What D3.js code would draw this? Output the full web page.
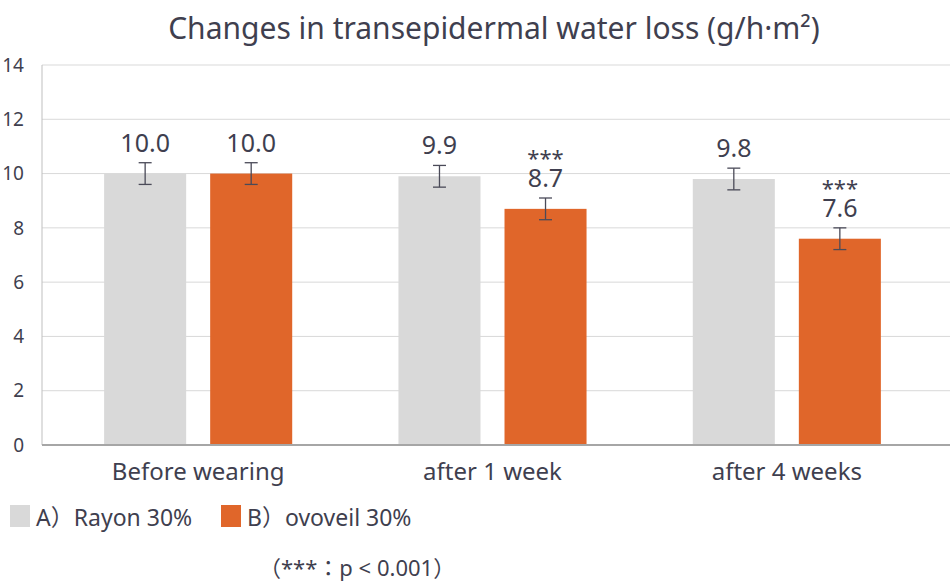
<!DOCTYPE html>
<html>
<head>
  <script src="https://d3js.org/d3.v7.min.js"></script>
  <style>
    body { margin: 0; background: #fff; }
    text { font-family: "Noto Sans", "Noto Sans CJK JP", sans-serif; fill: #3f3f4f; }
  </style>
</head>
<body>
  <div id="chart"></div>
  <script>
    // data
    var categories = ["Before wearing", "after 1 week", "after 4 weeks"];
    var seriesNames = ["A）Rayon 30%", "B）ovoveil 30%"];
    var rayon = [10.0, 9.9, 9.8];
    var ovoveil = [10.0, 8.7, 7.6];
    var rayonErr = [0.4, 0.4, 0.4];
    var ovoveilErr = [0.4, 0.4, 0.4];
    var ovoveilSig = ["", "***", "***"];
    var yTicks = [0, 2, 4, 6, 8, 10, 12, 14];
    var colors = ["#d9d9d9", "#e0662a"];

    var W = 950, H = 582;
    var plotLeft = 42, plotRight = 950, plotTop = 65, plotBottom = 445;

    var svg = d3.select("#chart").append("svg")
      .attr("width", W).attr("height", H);

    var y = d3.scaleLinear().domain([0, 14]).range([plotBottom, plotTop]);

    var x0 = d3.scaleBand()
      .domain(categories)
      .range([51, 934])
      .paddingInner(0.361)
      .paddingOuter(0.1805);

    var x1 = d3.scaleBand()
      .domain([0, 1])
      .range([0, x0.bandwidth()])
      .paddingInner(0.2264);

    // title
    svg.append("text")
      .attr("x", 494).attr("y", 39)
      .attr("text-anchor", "middle")
      .style("font-size", "30px")
      .text("Changes in transepidermal water loss (g/h·m²)");

    // gridlines
    svg.append("g").selectAll("line")
      .data(yTicks.filter(function(d) { return d > 0; }))
      .enter().append("line")
      .attr("x1", plotLeft).attr("x2", plotRight)
      .attr("y1", function(d) { return y(d); })
      .attr("y2", function(d) { return y(d); })
      .attr("stroke", "#d9d9d9").attr("stroke-width", 1);

    // y tick labels
    svg.append("g").selectAll("text")
      .data(yTicks)
      .enter().append("text")
      .attr("x", 24)
      .attr("y", function(d) { return y(d); })
      .attr("text-anchor", "end")
      .attr("dy", "0.35em")
      .style("font-size", "19px")
      .text(function(d) { return d; });

    // left axis line
    svg.append("line")
      .attr("x1", plotLeft).attr("x2", plotLeft)
      .attr("y1", plotTop).attr("y2", plotBottom)
      .attr("stroke", "#bfbfbf").attr("stroke-width", 1);

    var flat = [];
    categories.forEach(function(c, i) {
      flat.push({ cat: c, s: 0, v: rayon[i], e: rayonErr[i], sig: "" });
      flat.push({ cat: c, s: 1, v: ovoveil[i], e: ovoveilErr[i], sig: ovoveilSig[i] });
    });

    var groups = svg.append("g").selectAll("g")
      .data(flat)
      .enter().append("g")
      .attr("transform", function(d) { return "translate(" + (x0(d.cat) + x1(d.s)) + ",0)"; });

    var bw = x1.bandwidth();

    groups.append("rect")
      .attr("x", 0)
      .attr("width", bw)
      .attr("y", function(d) { return y(d.v); })
      .attr("height", function(d) { return y(0) - y(d.v); })
      .attr("fill", function(d) { return colors[d.s]; });

    // error bars
    groups.append("line")
      .attr("x1", bw / 2).attr("x2", bw / 2)
      .attr("y1", function(d) { return y(d.v + d.e); })
      .attr("y2", function(d) { return y(d.v - d.e); })
      .attr("stroke", "#4a4a58").attr("stroke-width", 1.3);
    groups.append("line")
      .attr("x1", bw / 2 - 6.5).attr("x2", bw / 2 + 6.5)
      .attr("y1", function(d) { return y(d.v + d.e); })
      .attr("y2", function(d) { return y(d.v + d.e); })
      .attr("stroke", "#4a4a58").attr("stroke-width", 1.3);
    groups.append("line")
      .attr("x1", bw / 2 - 6.5).attr("x2", bw / 2 + 6.5)
      .attr("y1", function(d) { return y(d.v - d.e); })
      .attr("y2", function(d) { return y(d.v - d.e); })
      .attr("stroke", "#4a4a58").attr("stroke-width", 1.3);

    // value labels
    groups.append("text")
      .attr("x", bw / 2)
      .attr("y", function(d) { return y(d.v + d.e) - 11; })
      .attr("text-anchor", "middle")
      .style("font-size", "25px")
      .text(function(d) { return d3.format(".1f")(d.v); });

    groups.append("text")
      .attr("x", bw / 2)
      .attr("y", function(d) { return y(d.v + d.e) - 32; })
      .attr("text-anchor", "middle")
      .style("font-size", "22px")
      .text(function(d) { return d.sig; });

    // bottom axis
    svg.append("line")
      .attr("x1", plotLeft).attr("x2", plotRight)
      .attr("y1", plotBottom).attr("y2", plotBottom)
      .attr("stroke", "#a6a6a6").attr("stroke-width", 2);

    svg.append("g").selectAll("text")
      .data(categories)
      .enter().append("text")
      .attr("x", function(d) { return x0(d) + x0.bandwidth() / 2; })
      .attr("y", 480)
      .attr("text-anchor", "middle")
      .style("font-size", "24px")
      .text(function(d) { return d; });

    // legend
    var legendX = [10, 221];
    var lg = svg.append("g").selectAll("g")
      .data(seriesNames)
      .enter().append("g")
      .attr("transform", function(d, i) { return "translate(" + legendX[i] + ",505)"; });
    lg.append("rect")
      .attr("width", 20).attr("height", 22)
      .attr("fill", function(d, i) { return colors[i]; });
    lg.append("text")
      .attr("x", 26).attr("y", 21)
      .style("font-size", "23px")
      .text(function(d) { return d; });

    svg.append("text")
      .attr("x", 259).attr("y", 576)
      .style("font-size", "22px")
      .text("（***：p < 0.001）");
  </script>
</body>
</html>
